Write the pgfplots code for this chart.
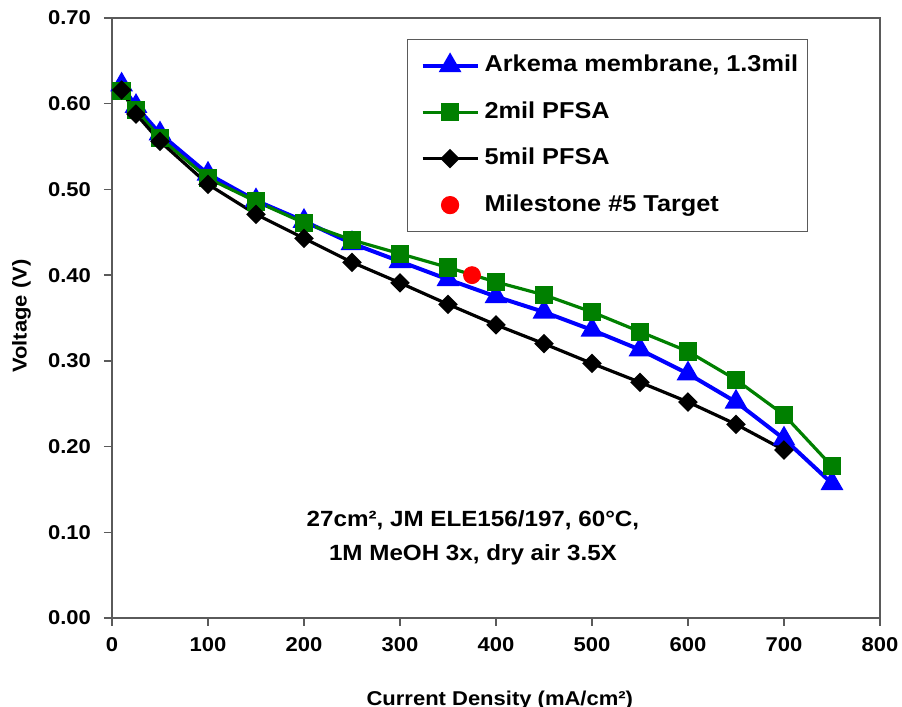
\documentclass[border=0pt]{standalone}
\usepackage{fontspec}
\setmainfont{Liberation Sans}[FakeStretch=1.1]
\usepackage{pgfplots}
\pgfplotsset{compat=1.18}
\definecolor{frameg}{RGB}{90,90,90}
\definecolor{pgreen}{RGB}{0,128,0}
\pgfplotsset{
 linelegend/.style={legend image code/.code={\path (-2pt,0pt); \draw[mark repeat=2,mark phase=2,##1] plot coordinates {(0pt,0pt) (13.75pt,0pt) (27.5pt,0pt)};}},
 dotlegend/.style={legend image code/.code={\path (-2pt,0pt) (27.5pt,0pt); \draw[##1] plot coordinates {(13.75pt,0pt)};}},
}
\begin{document}
\begin{tikzpicture}
\begin{axis}[name=ax, scale only axis, width=384pt, height=300pt,
 xmin=0, xmax=800, ymin=0, ymax=0.7,
 xtick={0,100,200,300,400,500,600,700,800},
 ytick={0,0.1,0.2,0.3,0.4,0.5,0.6,0.7},
 xtick pos=bottom, ytick pos=left, tick align=outside,
 major tick length=4pt,
 axis line style={frameg, line width=0.7pt},
 every tick/.style={frameg, line width=0.7pt},
 /pgf/number format/assume math mode=true,
 tick label style={font=\fontsize{10}{12}\selectfont\bfseries},
 yticklabel style={/pgf/number format/fixed, /pgf/number format/fixed zerofill, /pgf/number format/precision=2, xshift=-3pt},
 xticklabel style={yshift=-2pt},
 xlabel={Current Density (mA/cm²)},
 xlabel style={at={(axis description cs:0.505,-0.1367)}, anchor=center, font=\fontsize{10}{12}\selectfont\bfseries},
 ylabel={Voltage (V)},
 ylabel style={at={(axis description cs:-0.1178,0.503)}, anchor=center, font=\fontsize{10}{12}\selectfont\bfseries},
 legend style={at={(axis description cs:0.3841,0.965)}, anchor=north west, draw=frameg, line width=0.6pt, fill=white,
   inner xsep=4.5pt, inner ysep=7.5pt, row sep=12.25pt, column sep=2.5pt,
   font=\fontsize{11.5}{13}\selectfont\bfseries,
   nodes={inner sep=0pt, text height=8.5pt, text depth=2.5pt, anchor=west}},
 legend cell align=left,
 linelegend,
]
\addplot[blue, line width=2pt, mark=triangle*, mark size=4.6pt, mark options={solid}] coordinates {
(10,0.622) (25,0.597) (50,0.565) (100,0.518) (150,0.487) (200,0.463) (250,0.437) (300,0.416)
(350,0.395) (400,0.375) (450,0.357) (500,0.336) (550,0.313) (600,0.285) (650,0.252) (700,0.209) (750,0.157)};
\addlegendentry{Arkema membrane, 1.3mil}
\addplot[pgreen, line width=1.6pt, mark=square*, mark size=3.75pt, mark options={solid}] coordinates {
(10,0.615) (25,0.593) (50,0.560) (100,0.513) (150,0.486) (200,0.461) (250,0.441) (300,0.425)
(350,0.409) (400,0.392) (450,0.377) (500,0.357) (550,0.334) (600,0.311) (650,0.278) (700,0.237) (750,0.177)};
\addlegendentry{2mil PFSA}
\addplot[black, line width=1.6pt, mark=square*, mark size=2.65pt, mark options={solid, rotate=45}] coordinates {
(10,0.616) (25,0.588) (50,0.556) (100,0.506) (150,0.471) (200,0.443) (250,0.415) (300,0.391)
(350,0.366) (400,0.342) (450,0.320) (500,0.297) (550,0.275) (600,0.252) (650,0.226) (700,0.196)};
\addlegendentry{5mil PFSA}
\addplot[only marks, red, mark=*, mark size=4.25pt, dotlegend] coordinates {(375,0.400)};
\addlegendentry{Milestone \#5 Target}
\node[align=center, font=\fontsize{11}{17}\selectfont\bfseries] at (axis cs:376,0.0933) {27cm², JM ELE156/197, 60°C,\\1M MeOH 3x, dry air 3.5X};
\end{axis}
\pgfresetboundingbox
\path ([xshift=-56pt,yshift=-44.5pt]ax.south west) rectangle ([xshift=395pt,yshift=309pt]ax.south west);
\end{tikzpicture}
\end{document}
